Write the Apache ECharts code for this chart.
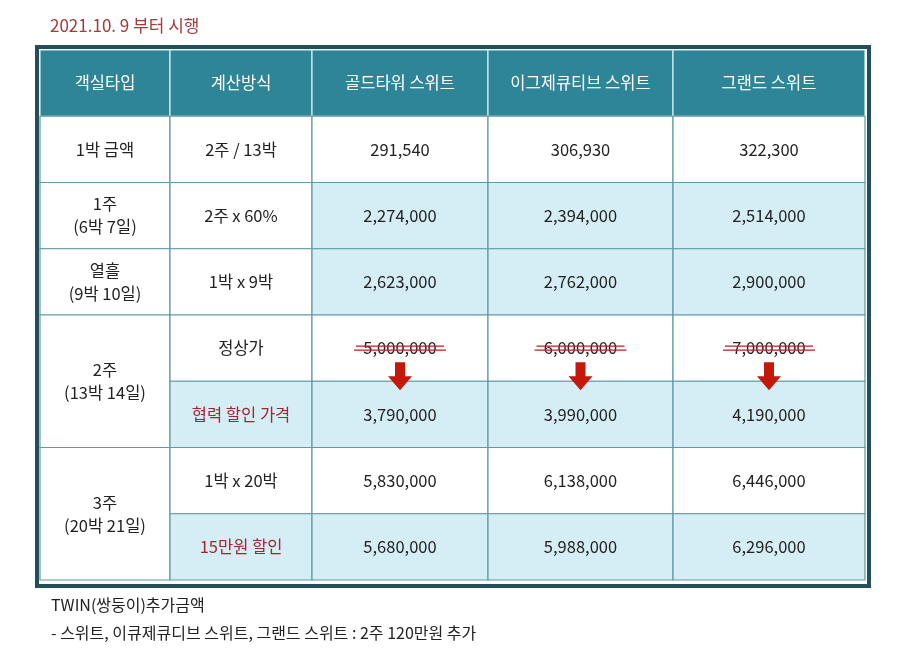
<!DOCTYPE html>
<html><head><meta charset="utf-8">
<script src="https://cdn.jsdelivr.net/npm/echarts@6/dist/echarts.min.js"></script>
<style>body{margin:0;background:#fff}#c{width:900px;height:660px}</style></head>
<body><div id="c"></div>
<script>
const title = '2021.10. 9 부터 시행';
const headers = ['객실타입','계산방식','골드타워 스위트','이그제큐티브 스위트','그랜드 스위트'];
const roomTypes = ['1박 금액','1주\n(6박 7일)','열흘\n(9박 10일)','2주\n(13박 14일)','3주\n(20박 21일)'];
const methods = ['2주 / 13박','2주 x 60%','1박 x 9박','정상가','협력 할인 가격','1박 x 20박','15만원 할인'];
const gold = ['291,540','2,274,000','2,623,000','5,000,000','3,790,000','5,830,000','5,680,000'];
const exec = ['306,930','2,394,000','2,762,000','6,000,000','3,990,000','6,138,000','5,988,000'];
const grand = ['322,300','2,514,000','2,900,000','7,000,000','4,190,000','6,446,000','6,296,000'];
const footer1 = 'TWIN(쌍둥이)추가금액';
const footer2 = '- 스위트, 이큐제큐디브 스위트, 그랜드 스위트 : 2주 120만원 추가';

const F = '"Noto Sans CJK KR", sans-serif';
const colEdges = [0,130,272,448,633,825];
const roomSpans = [[1,2],[2,3],[3,4],[4,6],[6,8]];
const blue = '#d5edf5', teal = '#2f8598', red = '#a3262b';
const cells = [];
headers.forEach((h,i)=>cells.push({c:i,r0:0,r1:1,t:h,bg:teal,col:'#fff',hd:1}));
roomTypes.forEach((t,i)=>cells.push({c:0,r0:roomSpans[i][0],r1:roomSpans[i][1],t:t,bg:'#fff',col:'#222'}));
const blueRows = {1:[2,3,4],2:[2,3,4],4:[1,2,3,4],6:[1,2,3,4]};
const redM = {4:1,6:1};
methods.forEach((m,j)=>{
  const r = j+1, b = blueRows[j]||[];
  cells.push({c:1,r0:r,r1:r+1,t:m,bg:b.includes(1)?blue:'#fff',col:redM[j]?red:'#222'});
  [gold,exec,grand].forEach((arr,k)=>cells.push({c:k+2,r0:r,r1:r+1,t:arr[j],bg:b.includes(k+2)?blue:'#fff',col:'#222',strike:j===3}));
});

const chart = echarts.init(document.getElementById('c'));
chart.setOption({
  animation:false,
  grid:{left:40,right:35,top:50,bottom:80},
  xAxis:{type:'value',min:0,max:825,show:false},
  yAxis:{type:'value',min:0,max:8,inverse:true,show:false},
  graphic:[
    {type:'rect',shape:{x:37,y:47,width:832,height:539},style:{fill:'none',stroke:'#234f5b',lineWidth:4},z:0},
    {type:'text',left:50,top:17,style:{text:title,fill:'#a43a3a',font:'17px '+F}},
    {type:'text',left:51,top:597,style:{text:footer1,fill:'#222',font:'16px '+F}},
    {type:'text',left:51,top:625,style:{text:footer2,fill:'#222',font:'16px '+F}}
  ],
  series:[{
    type:'custom',
    data:cells.map((c,i)=>[colEdges[c.c],colEdges[c.c+1],c.r0,c.r1,i]),
    encode:{x:[0,1],y:[2,3]},
    renderItem:(params,api)=>{
      const c = cells[api.value(4)];
      const p0 = api.coord([api.value(0),api.value(2)]);
      const p1 = api.coord([api.value(1),api.value(3)]);
      const cx=(p0[0]+p1[0])/2, cy=(p0[1]+p1[1])/2;
      const ch=[
        {type:'rect',shape:{x:p0[0],y:p0[1],width:p1[0]-p0[0],height:p1[1]-p0[1]},
         style:{fill:c.bg,stroke:c.hd?'#d8eef2':'#5f9ba6',lineWidth:1.2}},
        {type:'text',style:{text:c.t,x:cx,y:cy,align:'center',verticalAlign:'middle',fill:c.col,font:'16.5px '+F,lineHeight:23}}
      ];
      if(c.strike){
        ch.push({type:'line',shape:{x1:cx-44,y1:cy-2,x2:cx+44,y2:cy-2},style:{stroke:'#b82020',lineWidth:1.4}});
        ch.push({type:'line',shape:{x1:cx-46,y1:cy+2,x2:cx+46,y2:cy+2},style:{stroke:'#b82020',lineWidth:1.4}});
        const ay=cy+14;
        ch.push({type:'polygon',shape:{points:[[cx-5,ay],[cx+5,ay],[cx+5,ay+14],[cx+12,ay+14],[cx,ay+28],[cx-12,ay+14],[cx-5,ay+14]]},style:{fill:'#c4190a'},z2:10});
      }
      return {type:'group',children:ch};
    }
  }]
});
</script></body></html>
